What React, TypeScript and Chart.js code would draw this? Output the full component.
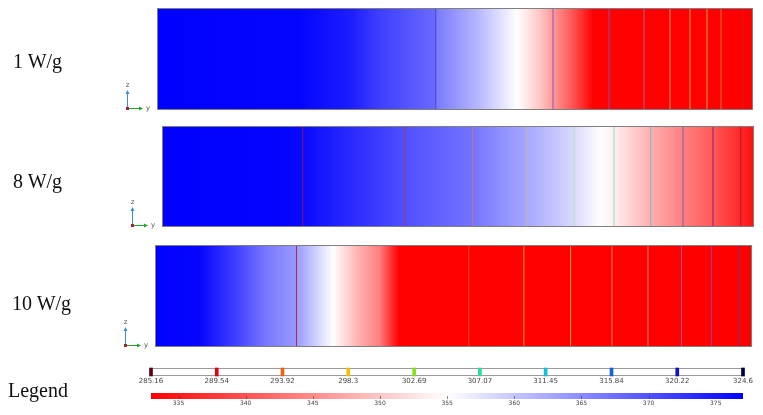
import React, { useEffect, useRef } from 'react';
import { Chart, registerables } from 'chart.js';
Chart.register(...registerables);

// colour scale (temperature, K)
const CB_MIN = 332.95;
const CB_MID = 355;
const CB_MAX = 377.03;
const cbTicks = [335, 340, 345, 350, 355, 360, 365, 370, 375];
const cbStops = [332.95, 355, 377.03];

// contour legend
const contourLevels = [285.16, 289.54, 293.92, 298.3, 302.69, 307.07, 311.45, 315.84, 320.22, 324.6];
const contourLabels = ['285.16', '289.54', '293.92', '298.3', '302.69', '307.07', '311.45', '315.84', '320.22', '324.6'];
const contourLevelColors = ['#5a0010', '#e00010', '#f06010', '#f0c000', '#80e020', '#20e0a0', '#10c0e0', '#1060e0', '#1010c0', '#000040'];

// panel labels
const panelLabels = ['1 W/g', '8 W/g', '10 W/g'];

// 1 W/g : temperature profile along y (percent of length)
const p1Pos = [0, 24.0, 32.4, 37.4, 46.6, 47.0, 54.2, 60.4, 64.3, 66.4, 70.1, 73.2, 100];
const p1Temp = [377, 376.6, 374.6, 371.6, 368, 366.5, 361, 355, 350, 346.2, 339.5, 333, 322];
const p1Lines = [46.76, 66.44, 75.84, 81.71, 86.07, 89.43, 92.28, 94.63, 98.32];
const p1LineColors = ['#4a4ac8', '#8a5ab8', '#8050b0', '#b06090', '#e8906a', '#f0a040', '#f4a030', '#f07030', '#d02020'];

// 8 W/g
const p2Pos = [0, 19.9, 23.8, 36.8, 41.0, 52.5, 61.7, 69.6, 74.0, 76.4, 82.5, 88.0, 93.1, 97.8, 100];
const p2Temp = [377, 376.8, 376.2, 371.8, 370.2, 367, 362.5, 358.3, 355, 353.6, 348, 344, 340.6, 336.4, 334];
const p2Lines = [23.77, 41.05, 52.48, 61.66, 69.59, 76.35, 82.55, 88.01, 93.07, 97.75];
const p2LineColors = ['#802050', '#a03878', '#c07888', '#c8b8a8', '#b8e0b0', '#90e0c0', '#70c0b8', '#7060b0', '#902080', '#c01030'];

// 10 W/g
const p3Pos = [0, 7.5, 14.2, 18.7, 23.7, 29.8, 34.2, 37.6, 39.3, 40.9, 100];
const p3Temp = [377, 376.5, 371, 366.6, 363.8, 355, 348, 344, 338, 333, 318];
const p3Lines = [23.7, 52.57, 61.79, 69.62, 76.54, 82.57, 88.19, 93.21, 97.87];
const p3LineColors = ['#a03050', '#f05010', '#f0a000', '#f0a040', '#f07868', '#e08088', '#b05090', '#9040a0', '#803070'];

function tempColor(t: number): string {
  const v = Math.max(CB_MIN, Math.min(CB_MAX, t));
  if (v <= CB_MID) {
    const g = Math.round(255 * (v - CB_MIN) / (CB_MID - CB_MIN));
    return `rgb(255,${g},${g})`;
  }
  const f = Math.round(255 * (CB_MAX - v) / (CB_MAX - CB_MID));
  return `rgb(${f},${f},255)`;
}

function makeGradient(chart: any, pos: number[], temps: number[]) {
  const { ctx, chartArea, scales } = chart;
  if (!chartArea || !scales.x) return 'rgba(0,0,0,0)';
  const x = scales.x;
  const x0 = x.getPixelForValue(pos[0]);
  const x1 = x.getPixelForValue(pos[pos.length - 1]);
  const g = ctx.createLinearGradient(x0, 0, x1, 0);
  pos.forEach((p, i) => {
    const s = (x.getPixelForValue(p) - x0) / (x1 - x0);
    g.addColorStop(Math.max(0, Math.min(1, s)), tempColor(temps[i]));
  });
  return g;
}

const framePlugin = {
  id: 'frameTriad',
  afterDatasetsDraw(chart: any) {
    const { ctx, chartArea: a } = chart;
    ctx.save();
    ctx.strokeStyle = '#7f7f7f';
    ctx.lineWidth = 1;
    ctx.strokeRect(Math.round(a.left) + 0.5, Math.round(a.top) + 0.5, Math.round(a.right - a.left) - 1, Math.round(a.bottom - a.top) - 1);
    // axis triad
    const ox = Math.round(a.left) - 30;
    const oy = Math.round(a.bottom) - 2;
    ctx.lineWidth = 1;
    ctx.strokeStyle = '#3a8fd0';
    ctx.fillStyle = '#3a8fd0';
    ctx.beginPath();
    ctx.moveTo(ox + 0.5, oy);
    ctx.lineTo(ox + 0.5, oy - 15);
    ctx.stroke();
    ctx.beginPath();
    ctx.moveTo(ox - 1.5, oy - 14);
    ctx.lineTo(ox + 2.5, oy - 14);
    ctx.lineTo(ox + 0.5, oy - 18);
    ctx.closePath();
    ctx.fill();
    ctx.strokeStyle = '#2aa02a';
    ctx.fillStyle = '#2aa02a';
    ctx.beginPath();
    ctx.moveTo(ox, oy + 0.5);
    ctx.lineTo(ox + 13, oy + 0.5);
    ctx.stroke();
    ctx.beginPath();
    ctx.moveTo(ox + 12, oy - 1.5);
    ctx.lineTo(ox + 12, oy + 2.5);
    ctx.lineTo(ox + 16, oy + 0.5);
    ctx.closePath();
    ctx.fill();
    ctx.fillStyle = '#a02040';
    ctx.fillRect(ox - 1, oy - 1, 3, 3);
    ctx.fillStyle = '#555';
    ctx.font = '7px "DejaVu Sans"';
    ctx.textAlign = 'center';
    ctx.textBaseline = 'middle';
    ctx.fillText('z', ox + 0.5, oy - 23);
    ctx.fillText('y', ox + 21, oy);
    ctx.restore();
  },
};

function panelConfig(pos: number[], temps: number[], lines: number[], colors: string[], pad: any) {
  return {
    type: 'line',
    data: {
      datasets: [
        {
          data: pos.map((p) => ({ x: p, y: 1 })),
          fill: 'origin',
          order: 10,
          backgroundColor: (c: any) => makeGradient(c.chart, pos, temps),
          borderColor: 'rgba(0,0,0,0)',
          borderWidth: 0,
          pointRadius: 0,
          tension: 0,
        },
        ...lines.map((p, i) => ({
          data: [{ x: p, y: 0 }, { x: p, y: 1 }],
          order: 0,
          borderColor: colors[i],
          borderWidth: 1,
          pointRadius: 0,
          fill: false,
        })),
      ],
    },
    options: {
      animation: false,
      responsive: false,
      events: [],
      layout: { padding: pad },
      plugins: { legend: { display: false }, tooltip: { enabled: false } },
      scales: {
        x: { type: 'linear', min: 0, max: 100, display: false },
        y: { type: 'linear', min: 0, max: 1, display: false },
      },
    },
    plugins: [framePlugin],
  };
}

const contourBarPlugin = {
  id: 'contourBar',
  beforeDatasetsDraw(chart: any) {
    const { ctx, chartArea: a } = chart;
    ctx.save();
    ctx.fillStyle = '#ffffff';
    ctx.fillRect(a.left, a.top, a.right - a.left, a.bottom - a.top);
    ctx.strokeStyle = '#9a9a9a';
    ctx.lineWidth = 1;
    ctx.strokeRect(Math.round(a.left) + 0.5, Math.round(a.top) + 0.5, Math.round(a.right - a.left) - 1, Math.round(a.bottom - a.top) - 1);
    ctx.restore();
  },
};

const cbTickPlugin = {
  id: 'cbTicks',
  afterDatasetsDraw(chart: any) {
    const { ctx, chartArea: a, scales } = chart;
    ctx.save();
    ctx.strokeStyle = 'rgba(60,60,60,0.6)';
    ctx.lineWidth = 1;
    cbTicks.forEach((v) => {
      const x = Math.round(scales.x.getPixelForValue(v)) + 0.5;
      ctx.beginPath();
      ctx.moveTo(x, a.bottom - 3);
      ctx.lineTo(x, a.bottom);
      ctx.stroke();
    });
    ctx.restore();
  },
};

function contourLegendConfig() {
  return {
    type: 'bar',
    data: {
      datasets: [
        {
          data: contourLevels.map((v) => ({ x: v, y: 1 })),
          backgroundColor: contourLevelColors,
          borderWidth: 0,
          barThickness: 3,
          clip: false,
        },
      ],
    },
    options: {
      animation: false,
      responsive: false,
      events: [],
      layout: { padding: { left: 151, right: 20, top: 10, bottom: 2 } },
      plugins: { legend: { display: false }, tooltip: { enabled: false } },
      scales: {
        x: {
          type: 'linear',
          min: contourLevels[0],
          max: contourLevels[contourLevels.length - 1],
          offset: false,
          afterBuildTicks: (ax: any) => { ax.ticks = contourLevels.map((v) => ({ value: v })); },
          afterFit: (s: any) => { s.height = 10; },
          grid: { display: false, drawTicks: false },
          border: { display: false },
          ticks: {
            autoSkip: false,
            maxRotation: 0,
            padding: 1,
            color: '#444',
            font: { size: 7, family: '"DejaVu Sans"' },
            callback: (_v: any, i: number) => contourLabels[i],
          },
        },
        y: { type: 'linear', min: 0, max: 1, display: false },
      },
    },
    plugins: [contourBarPlugin],
  };
}

function colorbarConfig() {
  return {
    type: 'bar',
    data: {
      labels: [''],
      datasets: [
        {
          data: [[CB_MIN, CB_MAX]],
          backgroundColor: (c: any) => makeGradient(c.chart, cbStops, cbStops),
          borderWidth: 0,
          barPercentage: 1,
          categoryPercentage: 1,
        },
      ],
    },
    options: {
      indexAxis: 'y',
      animation: false,
      responsive: false,
      events: [],
      layout: { padding: { left: 151, right: 20, top: 5, bottom: 6 } },
      plugins: { legend: { display: false }, tooltip: { enabled: false } },
      scales: {
        x: {
          type: 'linear',
          min: CB_MIN,
          max: CB_MAX,
          afterBuildTicks: (ax: any) => { ax.ticks = cbTicks.map((v) => ({ value: v })); },
          afterFit: (s: any) => { s.height = 10; },
          grid: { display: false, drawTicks: false },
          border: { display: false },
          ticks: {
            autoSkip: false,
            maxRotation: 0,
            padding: 1,
            color: '#444',
            font: { size: 6, family: '"DejaVu Sans"' },
          },
        },
        y: { display: false },
      },
    },
    plugins: [cbTickPlugin],
  };
}

function ChartBox({ top, height, make }: { top: number; height: number; make: () => any }) {
  const ref = useRef<HTMLCanvasElement | null>(null);
  useEffect(() => {
    const chart = new Chart(ref.current as HTMLCanvasElement, make());
    return () => chart.destroy();
  }, []);
  return (
    <canvas
      ref={ref}
      width={763}
      height={height}
      style={{ position: 'absolute', left: 0, top, width: 763, height }}
    />
  );
}

const labelStyle = (left: number, top: number): React.CSSProperties => ({
  position: 'absolute',
  left,
  top,
  fontFamily: '"Liberation Serif", serif',
  fontSize: 20,
  lineHeight: '20px',
  color: '#111',
  whiteSpace: 'nowrap',
});

export default function App() {
  return (
    <div style={{ position: 'absolute', left: 0, top: 0, width: 763, height: 415, background: '#fff', overflow: 'hidden' }}>
      <ChartBox top={0} height={118} make={() => panelConfig(p1Pos, p1Temp, p1Lines, p1LineColors, { left: 157, right: 10, top: 8, bottom: 8 })} />
      <ChartBox top={118} height={120} make={() => panelConfig(p2Pos, p2Temp, p2Lines, p2LineColors, { left: 162, right: 9, top: 8, bottom: 11 })} />
      <ChartBox top={238} height={120} make={() => panelConfig(p3Pos, p3Temp, p3Lines, p3LineColors, { left: 155, right: 11, top: 7, bottom: 11 })} />
      <ChartBox top={358} height={30} make={contourLegendConfig} />
      <ChartBox top={388} height={27} make={colorbarConfig} />
      <div style={labelStyle(13, 51)}>{panelLabels[0]}</div>
      <div style={labelStyle(13, 171)}>{panelLabels[1]}</div>
      <div style={labelStyle(12, 293)}>{panelLabels[2]}</div>
      <div style={labelStyle(8, 380)}>Legend</div>
    </div>
  );
}
